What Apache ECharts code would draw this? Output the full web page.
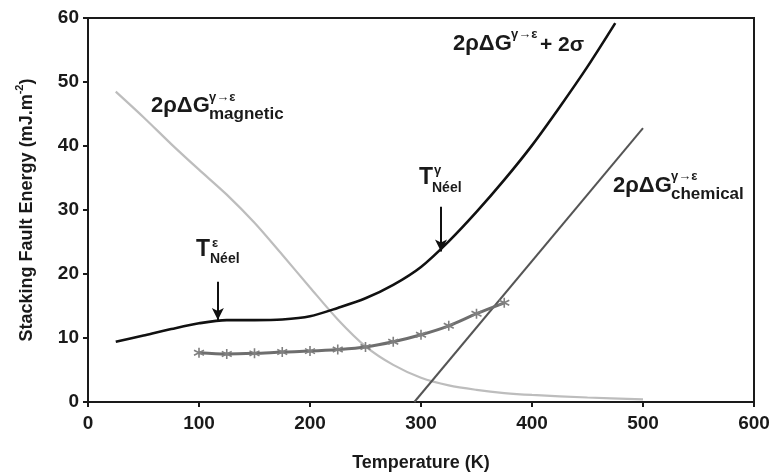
<!DOCTYPE html>
<html>
<head>
<meta charset="utf-8">
<script src="https://cdn.jsdelivr.net/npm/echarts@6/dist/echarts.min.js"></script>
<style>html,body{margin:0;padding:0;background:#fff;}#c{width:774px;height:476px;}</style>
</head>
<body>
<div id="c"></div>
<script>
// ---- data ----
const xTicks = [0, 100, 200, 300, 400, 500, 600];
const yTicks = [0, 10, 20, 30, 40, 50, 60];

const totalT = [25, 50, 75, 100, 125, 150, 175, 200, 225, 250, 275, 300, 325, 350, 375, 400, 425, 450, 475];
const totalV = [9.4, 10.4, 11.4, 12.3, 12.8, 12.8, 12.9, 13.4, 14.7, 16.2, 18.3, 21.1, 25.1, 29.7, 34.7, 40.1, 46.1, 52.4, 59.2];

const magT = [25, 50, 75, 100, 125, 150, 175, 200, 225, 250, 275, 300, 325, 350, 375, 400, 450, 500];
const magV = [48.5, 44.5, 40.3, 36.3, 32.4, 28.0, 23.0, 17.9, 12.9, 8.7, 5.8, 3.8, 2.6, 1.9, 1.4, 1.1, 0.7, 0.4];

const chemT = [294, 500];
const chemV = [0, 42.8];

const expT = [100, 125, 150, 175, 200, 225, 250, 275, 300, 325, 350, 375];
const expV = [7.7, 7.5, 7.6, 7.8, 7.95, 8.2, 8.6, 9.4, 10.5, 11.9, 13.8, 15.5];

const neelT = [117, 318];
const arrowFrom = [18.8, 30.5];
const arrowTo = [12.8, 23.5];

// ---- chart ----
const pairs = (xs, ys) => xs.map((x, i) => [x, ys[i]]);
const F = '"Liberation Sans", Arial, sans-serif';
const star = 'path://M5 0 L5 10 M0.7 2.5 L9.3 7.5 M0.7 7.5 L9.3 2.5';

const chart = echarts.init(document.getElementById('c'), null, {renderer: 'canvas'});

function txt(text, x, y, size, color) {
  return {
    type: 'text', x: x, y: y, z: 100,
    style: {text: text, font: 'bold ' + size + 'px ' + F, fill: color || '#1a1a1a',
            align: 'left', verticalAlign: 'middle'}
  };
}

const option = {
  backgroundColor: '#ffffff',
  animation: false,
  grid: {left: 88, right: 20, top: 18, bottom: 74, show: true, borderColor: '#1a1a1a', borderWidth: 2,
         containLabel: false, outerBoundsMode: 'none'},
  xAxis: {
    type: 'value', min: xTicks[0], max: xTicks[xTicks.length - 1], interval: 100,
    name: 'Temperature (K)', nameLocation: 'middle', nameGap: 52,
    nameTextStyle: {fontFamily: F, fontWeight: 'bold', fontSize: 18, color: '#1a1a1a'},
    axisLine: {lineStyle: {color: '#1a1a1a', width: 2}},
    axisTick: {show: true, inside: false, length: 5, lineStyle: {color: '#1a1a1a', width: 2}},
    axisLabel: {fontFamily: F, fontWeight: 'bold', fontSize: 19, color: '#1a1a1a', margin: 12},
    splitLine: {show: false}
  },
  yAxis: {
    type: 'value', min: yTicks[0], max: yTicks[yTicks.length - 1], interval: 10,
    name: '{a|Stacking Fault Energy (mJ.m}{s|-2}{a|)}', nameLocation: 'middle', nameGap: 52, nameRotate: 90,
    nameTextStyle: {
      rich: {
        a: {fontFamily: F, fontWeight: 'bold', fontSize: 18, color: '#1a1a1a', lineHeight: 22, verticalAlign: 'bottom'},
        s: {fontFamily: F, fontWeight: 'bold', fontSize: 11, color: '#1a1a1a', lineHeight: 22, verticalAlign: 'top'}
      }
    },
    axisLine: {lineStyle: {color: '#1a1a1a', width: 2}},
    axisTick: {show: true, inside: false, length: 5, lineStyle: {color: '#1a1a1a', width: 2}},
    axisLabel: {fontFamily: F, fontWeight: 'bold', fontSize: 19, color: '#1a1a1a', margin: 9},
    splitLine: {show: false}
  },
  series: [
    {
      name: 'magnetic', type: 'line', data: pairs(magT, magV), smooth: 0.3, showSymbol: false,
      lineStyle: {color: '#bdbdbd', width: 2.2}, z: 2
    },
    {
      name: 'chemical', type: 'line', data: pairs(chemT, chemV), showSymbol: false,
      lineStyle: {color: '#555555', width: 2}, z: 3
    },
    {
      name: 'experimental', type: 'line', data: pairs(expT, expV), smooth: 0.3,
      symbol: star, symbolSize: 10, showSymbol: true,
      itemStyle: {color: 'rgba(0,0,0,0)', borderColor: '#808080', borderWidth: 1.6},
      lineStyle: {color: '#6e6e6e', width: 3}, z: 4
    },
    {
      name: 'total', type: 'line', data: pairs(totalT, totalV), smooth: 0.3, showSymbol: false,
      lineStyle: {color: '#111111', width: 2.6}, z: 5,
      markLine: {
        silent: true, symbol: ['none', 'arrow'], symbolSize: [9, 12],
        label: {show: false},
        lineStyle: {color: '#111111', width: 2, type: 'solid'},
        data: neelT.map((t, i) => [{coord: [t, arrowFrom[i]]}, {coord: [t, arrowTo[i]]}])
      }
    }
  ],
  graphic: [
    // magnetic label
    txt('2ρΔG', 151, 106, 22),
    txt('γ→ε', 209, 97, 13),
    txt('magnetic', 209, 114, 17),
    // total label
    txt('2ρΔG', 453, 44, 22),
    txt('γ→ε', 511, 34, 13),
    txt('+ 2σ', 540, 45, 21),
    // chemical label
    txt('2ρΔG', 613, 186, 22),
    txt('γ→ε', 671, 176, 13),
    txt('chemical', 671, 194, 17),
    // Neel eps
    txt('T', 196, 250, 23),
    txt('ε', 212, 243, 13),
    txt('Néel', 210, 259, 14),
    // Neel gamma
    txt('T', 419, 178, 23),
    txt('γ', 434, 170, 13),
    txt('Néel', 432, 188, 14)
  ]
};
chart.setOption(option);
</script>
</body>
</html>
